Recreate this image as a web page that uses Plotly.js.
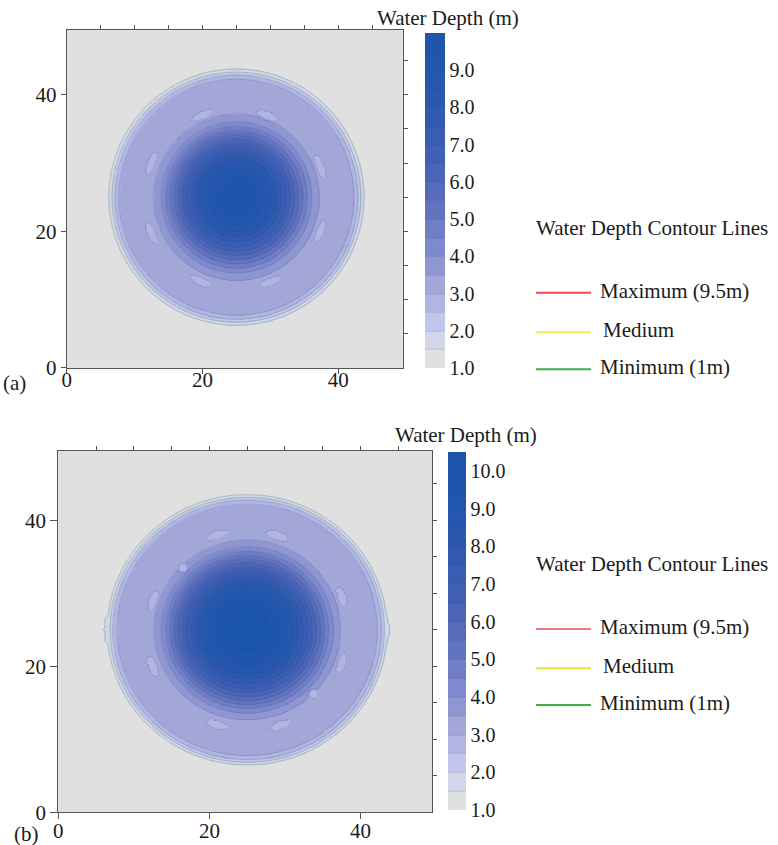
<!DOCTYPE html>
<html>
<head>
<meta charset="utf-8">
<script src="https://cdn.plot.ly/plotly-3.0.1.min.js"></script>
<style>
  html, body { margin: 0; padding: 0; background: #ffffff; }
  #chart { width: 778px; height: 845px; }
</style>
</head>
<body>
<div id="chart"></div>
<script>
// ---- Data -------------------------------------------------------------
// Radial water-depth profiles (m) against distance from the basin centre (m)
const radiusA = [0, 1, 2, 3, 4, 5, 6, 7, 8, 9, 10, 11, 12, 13, 14, 15, 16, 17, 17.5, 18, 18.5, 19, 19.5, 20, 40];
const depthA  = [9.95, 9.9, 9.72, 9.42, 9.02, 8.52, 7.92, 7.22, 6.45, 5.62, 4.8, 4.05, 3.55, 3.3, 3.22, 3.2, 3.2, 3.12, 2.92, 2.38, 1.78, 1.3, 1.02, 1.0, 1.0];

const radiusB = [0, 1, 2, 3, 4, 5, 6, 7, 8, 9, 10, 11, 12, 13, 14, 15, 16, 17, 17.5, 18, 18.5, 19, 19.5, 20, 40];
const depthB  = [10.45, 10.4, 10.25, 10.0, 9.62, 9.12, 8.52, 7.82, 7.02, 6.15, 5.2, 4.28, 3.6, 3.3, 3.22, 3.2, 3.2, 3.12, 2.85, 2.2, 1.5, 1.08, 1.0, 1.0, 1.0];

// Shallower pockets inside the outer ring: angle (deg from +x), radius (m), arc span (m), depth (m)
const pocketAngleA  = [20, 69, 113, 158, 203, 247, 292, 338];
const pocketRadiusA = [13.1, 12.8, 13.0, 13.5, 13.6, 13.4, 13.4, 13.3];
const pocketSpanA   = [3.6, 3.6, 3.6, 3.6, 3.6, 3.6, 3.6, 3.6];
const pocketDepthA  = [2.8, 2.8, 2.8, 2.8, 2.8, 2.8, 2.8, 2.8];

const pocketAngleB  = [20, 73, 107, 162, 202, 253, 289, 340, 135, 315];
const pocketRadiusB = [13.3, 13.5, 13.6, 13.1, 13.5, 13.6, 13.8, 13.3, 12.0, 12.4];
const pocketSpanB   = [3.0, 3.2, 3.2, 3.0, 3.0, 3.2, 3.2, 3.0, 1.2, 1.2];
const pocketDepthB  = [2.8, 2.8, 2.8, 2.8, 2.8, 2.8, 2.8, 2.8, 2.8, 2.8];

// Wet-front bulges on the outer edge of run (b)
const bulgeAngleB  = [0, 180];
const bulgeRadiusB = [18.3, 18.5];
const bulgeDepthB  = [1.7, 1.7];

// Colorbar tick labels
const cbTicksA = [1, 2, 3, 4, 5, 6, 7, 8, 9];
const cbTicksB = [1, 2, 3, 4, 5, 6, 7, 8, 9, 10];
const axisTicks = [0, 20, 40];
const minorTicks = [5, 10, 15, 20, 25, 30, 35, 40, 45];

// Contour-line legend
const lineNames = ['Maximum (9.5m)', 'Medium', 'Minimum (1m)'];
const lineColorsA = ['#ec4a4e', '#ecec5a', '#46ad4c'];
const lineColorsB = ['#f27880', '#e8e63c', '#3fb14a'];

// ---- Styling ----------------------------------------------------------
const FONT = '"Liberation Serif", "Times New Roman", serif';
const TXT = '#1b1b1b';
const FRAME = '#555555';

// One fill colour per 0.5 m band, lowest first
const bandColorsA = ['#dfe0df', '#d3d5e8', '#c3c6ec', '#b1b5e3', '#a2a7d8', '#8f97d2', '#7f8acc', '#6f7ec5',
  '#6274bf', '#566bb9', '#4a64b6', '#4060b4', '#385db2', '#315ab0', '#2b58af', '#2557ae', '#2156ad', '#1d56ac'];
const bandColorsB = ['#dfe0df', '#d3d5e8', '#c3c6ec', '#b1b5e3', '#a2a7d8', '#8f97d2', '#7f8acc', '#6f7ec5',
  '#6274bf', '#566bb9', '#4a64b6', '#4060b4', '#385db2', '#315ab0', '#2b58af', '#2557ae', '#2156ad', '#1d56ac', '#1a55ab'];

// Stepped colorscale: each band keeps a single flat colour
function bandScale(colors) {
  const n = colors.length, out = [];
  colors.forEach((c, k) => { out.push([k / n, c]); out.push([(k + 1) / n, c]); });
  return out;
}

// ---- Depth field on the basin grid -------------------------------------
const STEP = 0.25, EXTENT = 49.5, CX = 25, CY = 25;
const grid = [];
for (let v = 0; v <= EXTENT + 1e-9; v += STEP) grid.push(+v.toFixed(2));

function profileAt(radii, depths, r) {
  if (r >= radii[radii.length - 1]) return depths[depths.length - 1];
  let i = 0;
  while (radii[i + 1] < r) i++;
  const t = (r - radii[i]) / (radii[i + 1] - radii[i]);
  return depths[i] + t * (depths[i + 1] - depths[i]);
}

function insideArc(r, th, angDeg, rad, span, halfWidth) {
  let d = th - angDeg * Math.PI / 180;
  d = Math.atan2(Math.sin(d), Math.cos(d));
  const arc = d * rad, dr = r - rad;
  return (dr / halfWidth) ** 2 + (arc / (span / 2)) ** 2 <= 1;
}

function buildField(radii, depths, pockets, bulges) {
  return grid.map(y => grid.map(x => {
    const dx = x - CX, dy = y - CY;
    const r = Math.hypot(dx, dy), th = Math.atan2(dy, dx);
    let z = profileAt(radii, depths, r);
    for (let k = 0; k < pockets.angle.length; k++) {
      if (insideArc(r, th, pockets.angle[k], pockets.radius[k], pockets.span[k], 0.6)) z = Math.min(z, pockets.depth[k]);
    }
    if (bulges) {
      for (let k = 0; k < bulges.angle.length; k++) {
        if (insideArc(r, th, bulges.angle[k], bulges.radius[k], 4.0, 0.5)) z = Math.max(z, bulges.depth[k]);
      }
    }
    return z;
  }));
}

const zA = buildField(radiusA, depthA,
  {angle: pocketAngleA, radius: pocketRadiusA, span: pocketSpanA, depth: pocketDepthA}, null);
const zB = buildField(radiusB, depthB,
  {angle: pocketAngleB, radius: pocketRadiusB, span: pocketSpanB, depth: pocketDepthB},
  {angle: bulgeAngleB, radius: bulgeRadiusB, depth: bulgeDepthB});

// ---- Traces --------------------------------------------------------------
const W = 778, H = 845;
const px = v => v / W;
const py = v => 1 - v / H;

function colorbar(x, yTop, yBot, thick, ticks) {
  return {
    x: px(x), xanchor: 'left', xpad: 0,
    y: py((yTop + yBot) / 2), yanchor: 'middle', ypad: 0,
    len: yBot - yTop, lenmode: 'pixels',
    thickness: thick, thicknessmode: 'pixels',
    outlinewidth: 0, borderwidth: 0,
    tickvals: ticks, tickformat: '.1f', ticks: '',
    tickfont: {family: FONT, size: 20, color: TXT},
    title: {text: ''}
  };
}

const LINE = {color: 'rgba(55,70,130,0.3)', width: 0.6};
const RIM = {color: 'rgba(120,185,140,0.45)', width: 0.7};

const fillA = {
  type: 'contour', x: grid, y: grid, z: zA, xaxis: 'x', yaxis: 'y',
  zmin: 1, zmax: 10,
  autocontour: false, contours: {start: 1.5, end: 9.5, size: 0.5, coloring: 'heatmap'},
  colorscale: bandScale(bandColorsA), line: LINE,
  colorbar: colorbar(425, 33, 368, 20, cbTicksA),
  hoverinfo: 'skip'
};
const rimA = {
  type: 'contour', x: grid, y: grid, z: zA, xaxis: 'x', yaxis: 'y',
  autocontour: false, contours: {start: 1.5, end: 2.5, size: 0.5, coloring: 'none'},
  line: RIM, showscale: false, hoverinfo: 'skip'
};
const fillB = {
  type: 'contour', x: grid, y: grid, z: zB, xaxis: 'x2', yaxis: 'y2',
  zmin: 1, zmax: 10.5,
  autocontour: false, contours: {start: 1.5, end: 10.0, size: 0.5, coloring: 'heatmap'},
  colorscale: bandScale(bandColorsB), line: LINE,
  colorbar: colorbar(448, 452, 810, 18, cbTicksB),
  hoverinfo: 'skip'
};
const rimB = {
  type: 'contour', x: grid, y: grid, z: zB, xaxis: 'x2', yaxis: 'y2',
  autocontour: false, contours: {start: 1.5, end: 2.5, size: 0.5, coloring: 'none'},
  line: RIM, showscale: false, hoverinfo: 'skip'
};
// empty holders so the tick-only overlay axes are laid out
const holders = [['x3', 'y'], ['x', 'y3'], ['x4', 'y2'], ['x2', 'y4']].map(([xa, ya]) => ({
  type: 'scatter', x: [], y: [], xaxis: xa, yaxis: ya, showlegend: false, hoverinfo: 'skip'
}));

// ---- Axes -----------------------------------------------------------------
function mainAxis(domain, anchor, standoff, ticklen) {
  return {
    domain, anchor, range: [0, EXTENT], tickvals: axisTicks,
    ticks: 'outside', ticklen: ticklen, tickcolor: FRAME, tickwidth: 1,
    ticklabelstandoff: standoff,
    showline: true, linecolor: FRAME, linewidth: 1, mirror: true,
    showgrid: false, zeroline: false, fixedrange: true,
    tickfont: {family: FONT, size: 21, color: TXT}
  };
}
function minorAxis(overlay, anchor, side) {
  return {
    overlaying: overlay, anchor, side, range: [0, EXTENT], tickvals: minorTicks,
    ticks: 'outside', ticklen: 4, tickcolor: FRAME, tickwidth: 1,
    showticklabels: false, showline: false, showgrid: false, zeroline: false
  };
}

const layout = {
  width: W, height: H,
  margin: {l: 0, r: 0, t: 0, b: 0},
  paper_bgcolor: '#ffffff', plot_bgcolor: '#dfe0df',
  showlegend: false,
  font: {family: FONT, color: TXT},
  xaxis: mainAxis([px(66.7), px(402.7)], 'y', -12, 5),
  yaxis: mainAxis([py(367.7), py(30)], 'x', 0, 5),
  xaxis2: mainAxis([px(58.3), px(432.3)], 'y2', -7, 6),
  yaxis2: mainAxis([py(812.3), py(451)], 'x2', 0, 7),
  xaxis3: minorAxis('x', 'y', 'top'),
  yaxis3: minorAxis('y', 'x', 'right'),
  xaxis4: minorAxis('x2', 'y2', 'top'),
  yaxis4: minorAxis('y2', 'x2', 'right'),
  shapes: [],
  annotations: []
};

function note(text, x, y, size, xanchor) {
  return {text, x: px(x), y: py(y), xref: 'paper', yref: 'paper', xanchor: xanchor || 'left', yanchor: 'middle',
    showarrow: false, font: {family: FONT, size, color: TXT}};
}

// Panel labels and colorbar titles
layout.annotations.push(note('(a)', 1, 383, 21));
layout.annotations.push(note('(b)', 12, 834, 21));
layout.annotations.push(note('Water Depth (m)', 375, 18, 21));
layout.annotations.push(note('Water Depth (m)', 393, 435, 21));

// Contour-line legends
function lineLegend(titleY, rowsY, colors) {
  layout.annotations.push(note('Water Depth Contour Lines', 534, titleY, 21));
  lineNames.forEach((name, i) => {
    layout.shapes.push({type: 'line', xref: 'paper', yref: 'paper',
      x0: px(536), x1: px(591), y0: py(rowsY[i]), y1: py(rowsY[i]),
      line: {color: colors[i], width: 2}});
    layout.annotations.push(note(name, name === 'Medium' ? 601 : 598, rowsY[i] - 2, 21));
  });
}
lineLegend(228, [292.7, 332.3, 369.3], lineColorsA);
lineLegend(564, [629, 668.3, 705], lineColorsB);

Plotly.newPlot('chart', [fillA, rimA, fillB, rimB, ...holders], layout, {displayModeBar: false, staticPlot: true});
</script>
</body>
</html>
